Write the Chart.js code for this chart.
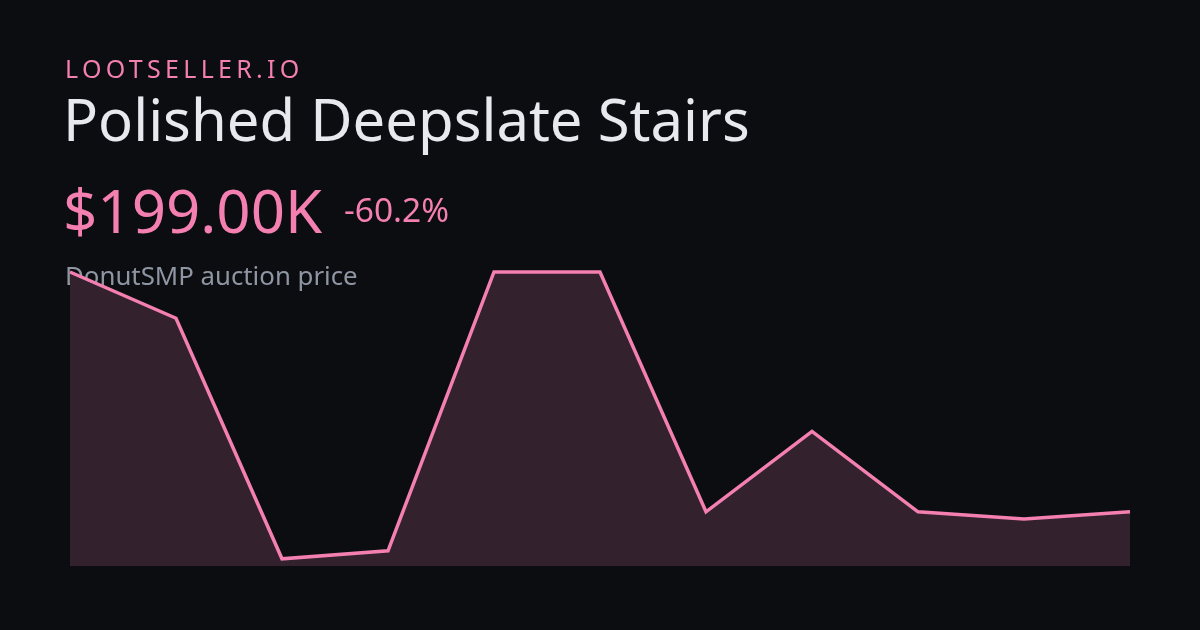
<!DOCTYPE html>
<html>
<head>
<meta charset="utf-8">
<script src="https://cdn.jsdelivr.net/npm/chart.js@4"></script>
<style>
  html, body { margin: 0; padding: 0; background: #0c0d10; }
  #wrap { width: 1200px; height: 630px; position: relative; }
</style>
</head>
<body>
<div id="wrap"><canvas id="chartCanvas" width="1200" height="630"></canvas></div>
<script>
// price history (K), oldest first
var labels = ["1", "2", "3", "4", "5", "6", "7", "8", "9", "10", "11"];
var prices = [500, 442, 140, 150, 500, 500, 199, 300, 199, 190, 199];
var yMin = 131;
var yMax = 500;

var brand = "LOOTSELLER.IO";
var itemName = "Polished Deepslate Stairs";
var priceText = "$199.00K";
var changeText = "-60.2%";
var subText = "DonutSMP auction price";

var pink = "#f47fb1";

// header text drawn under the line
var headerText = {
  id: "headerText",
  beforeDatasetsDraw: function(chart) {
    var c = chart.ctx;
    c.save();
    c.textBaseline = "alphabetic";
    c.textAlign = "left";

    c.fillStyle = pink;
    c.font = "25px 'Noto Sans'";
    c.letterSpacing = "4.3px";
    c.fillText(brand, 65, 78);
    c.letterSpacing = "0px";

    c.fillStyle = "#e8e9ee";
    c.font = "58px 'Noto Sans'";
    c.fillText(itemName, 63, 141);

    c.fillStyle = pink;
    c.font = "60px 'Noto Sans'";
    c.fillText(priceText, 63, 233);
    c.font = "33.5px 'Noto Sans'";
    c.fillText(changeText, 344, 222);

    c.fillStyle = "#8e95a3";
    c.font = "25.8px 'Noto Sans'";
    c.fillText(subText, 65, 285);
    c.restore();
  }
};

var ctx = document.getElementById("chartCanvas").getContext("2d");
var myChart = new Chart(ctx, {
  type: "line",
  data: {
    labels: labels,
    datasets: [{
      data: prices,
      borderColor: pink,
      borderWidth: 3.5,
      backgroundColor: "#33212d",
      fill: "start",
      tension: 0,
      pointRadius: 0,
      clip: false
    }]
  },
  options: {
    responsive: false,
    animation: false,
    layout: { padding: { left: 70, right: 70, top: 272, bottom: 64 } },
    scales: {
      x: { display: false, offset: false },
      y: { display: false, min: yMin, max: yMax }
    },
    plugins: {
      legend: { display: false },
      tooltip: { enabled: false }
    }
  },
  plugins: [headerText]
});
</script>
</body>
</html>
